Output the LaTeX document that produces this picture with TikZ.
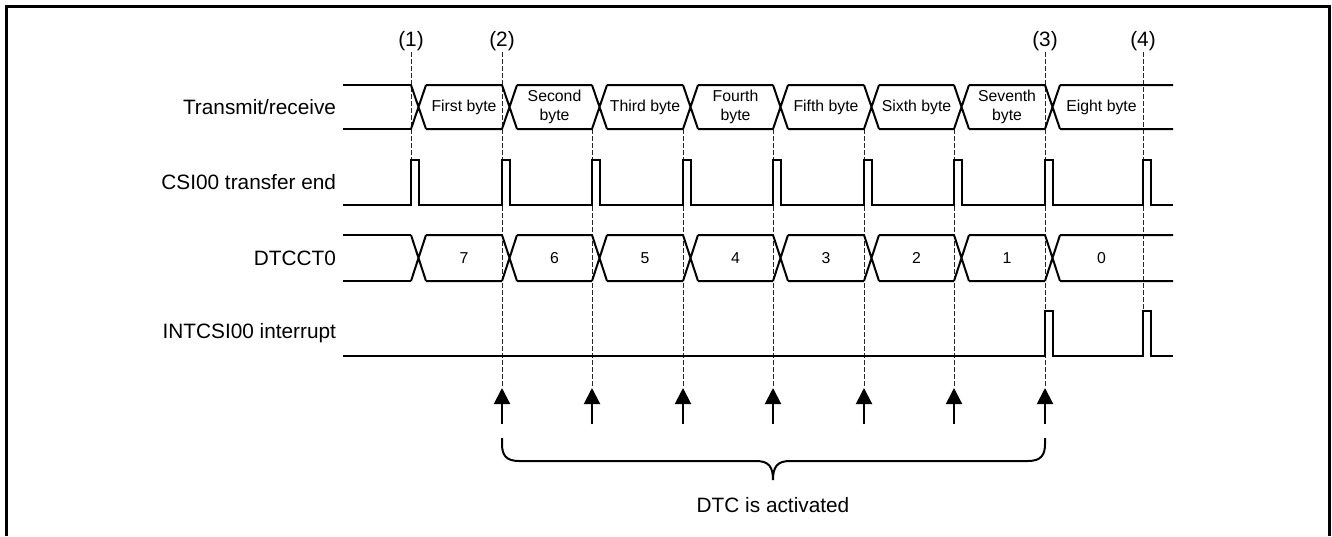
\documentclass[tikz,border=0pt]{standalone}
\usepackage{fontspec}
\setmainfont{Liberation Sans}
\usetikzlibrary{arrows.meta}

\begin{document}
\begin{tikzpicture}[x=.5pt, y=-.5pt, line width=1pt,
    guide/.style={line width=.45pt, dash pattern=on 2.5pt off 1pt, black!85},
    act/.style={-{Triangle[width=8pt,length=8pt]}, line width=1pt},
    rowlbl/.style={anchor=east, inner sep=0pt, font=\fontsize{10.4}{12}\selectfont},
    tag/.style={inner sep=0pt, font=\fontsize{10.4}{12}\selectfont},
    val/.style={inner sep=0pt, align=center, font=\fontsize{7.9}{9.5}\selectfont}]
\useasboundingbox (0,0) rectangle (1332,536);
% frame, open at the bottom
\draw[line width=1.5pt] (6.5,536) -- (6.5,6.5) -- (1329.5,6.5) -- (1329.5,536);

% row names
\node[rowlbl] (nTR)  at (337,107) {Transmit/receive};
\node[rowlbl] (nCSI) at (337,182) {CSI00 transfer end};
\node[rowlbl] (nDTC) at (337,258) {DTCCT0};
\node[rowlbl] (nINT) at (337,333) {INTCSI00 interrupt};

% dashed guides
\draw[guide] (411,52) -- (411,160);
\draw[guide] (502,52) -- (502,388);
\foreach \x in {592,683,773,864,954}
    \draw[guide] (\x,129) -- (\x,388);
\draw[guide] (1045,52) -- (1045,388);
\draw[guide] (1143,52) -- (1143,311);
\node[tag] (m1) at (411,41) {(1)};
\node[tag] (m2) at (502,41) {(2)};
\node[tag] (m3) at (1045,41) {(3)};
\node[tag] (m4) at (1143,41) {(4)};

% transmit/receive bus
\draw (343,85) -- (411,85) (343,129) -- (411,129);
\foreach \a/\b/\t [count=\i] in {411/502/First byte, 502/592/{Second\\byte}, 592/683/Third byte,
    683/773/{Fourth\\byte}, 773/864/Fifth byte, 864/954/Sixth byte, 954/1045/{Seventh\\byte}}{
    \draw (\a,85) -- (\a+15,129) (\a,129) -- (\a+15,85) (\a+15,85) -- (\b,85) (\a+15,129) -- (\b,129);
    \node[val] (tr\i) at (\a/2+\b/2+7.5,107) {\t};
}
\draw (1045,85) -- (1060,129) (1045,129) -- (1060,85) (1060,85) -- (1173,85) (1060,129) -- (1173,129);
\node[val] (tr8) at (1101.5,107) {Eight byte};

% CSI00 transfer end
\draw (343,205) \foreach \p in {411,502,592,683,773,864,954,1045,1143}
    { -- (\p,205) -- (\p,160) -- (\p+8,160) -- (\p+8,205) } -- (1173,205);

% DTCCT0 bus
\draw (343,235) -- (411,235) (343,281) -- (411,281);
\foreach \a/\b/\t in {411/502/7, 502/592/6, 592/683/5, 683/773/4, 773/864/3, 864/954/2, 954/1045/1}{
    \draw (\a,235) -- (\a+15,281) (\a,281) -- (\a+15,235) (\a+15,235) -- (\b,235) (\a+15,281) -- (\b,281);
    \node[val] (ct\t) at (\a/2+\b/2+7.5,258) {\t};
}
\draw (1045,235) -- (1060,281) (1045,281) -- (1060,235) (1060,235) -- (1173,235) (1060,281) -- (1173,281);
\node[val] (ct0) at (1101.5,258) {0};

% INTCSI00 interrupt
\draw (343,356) \foreach \p in {1045,1143}
    { -- (\p,356) -- (\p,311) -- (\p+8,311) -- (\p+8,356) } -- (1173,356);

% DTC activation
\foreach \x [count=\i] in {502,592,683,773,864,954,1045}{
    \coordinate (tail\i) at (\x,424);
    \coordinate (tip\i) at (\x,388);
    \draw[act] (tail\i) -- (tip\i);
}
\draw (502,438) -- (502,444) .. controls (502,455) and (506,461) .. (519,461) -- (756,461)
    .. controls (769,461) and (773,467) .. (773,480)
    .. controls (773,467) and (777,461) .. (790,461) -- (1028,461)
    .. controls (1041,461) and (1045,455) .. (1045,444) -- (1045,438);
\node[tag] (dtc) at (773,505) {DTC is activated};
\end{tikzpicture}
\end{document}
